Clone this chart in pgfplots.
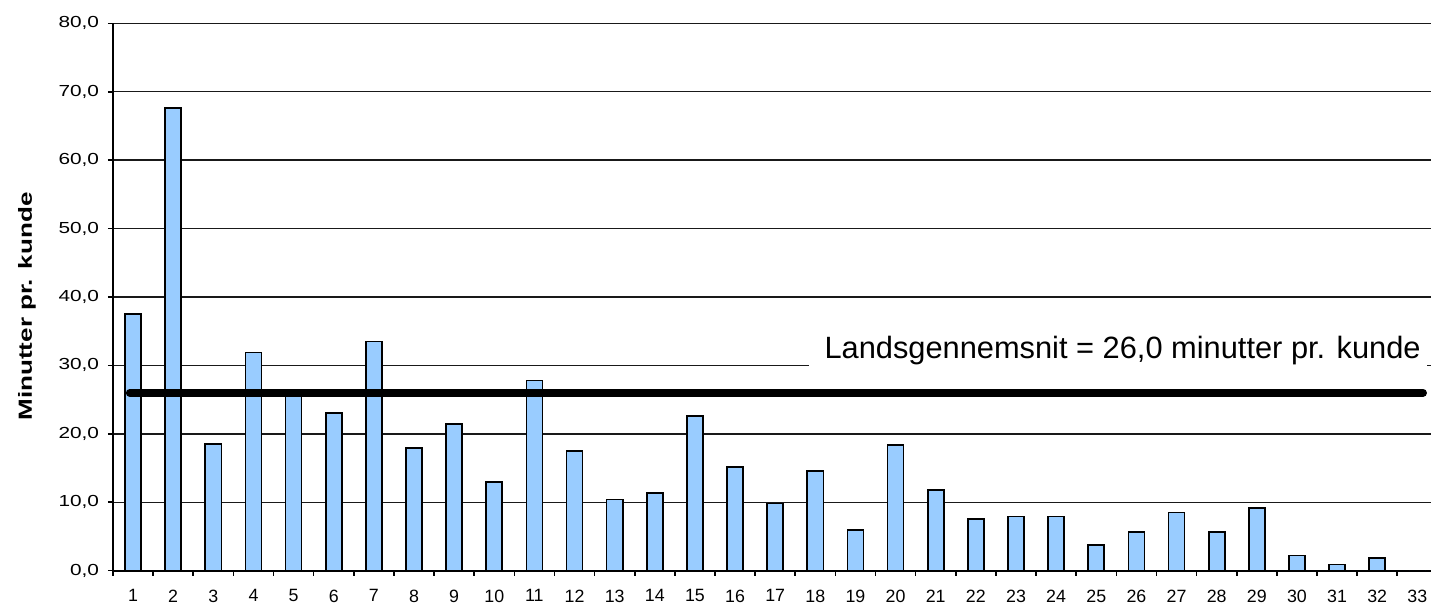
\documentclass[border=0pt]{standalone}
\usepackage{fontspec}
\setmainfont{Liberation Sans}
\usepackage{graphicx}
\usepackage{pgfplots}
\pgfplotsset{compat=1.18}
\definecolor{barblue}{HTML}{99CCFF}
\pgfplotstableread{
x y
1 37.5
2 67.6
3 18.5
4 31.9
5 25.8
6 23.0
7 33.5
8 17.9
9 21.4
10 13.0
11 27.8
12 17.5
13 10.4
14 11.4
15 22.6
16 15.2
17 9.8
18 14.6
19 5.9
20 18.4
21 11.8
22 7.6
23 7.9
24 7.9
25 3.8
26 5.7
27 8.5
28 5.7
29 9.2
30 2.2
31 0.9
32 1.9
33 0
}\datatable
\begin{document}
\begin{tikzpicture}
\begin{axis}[
  at={(0,0)}, anchor=south west,
  scale only axis, width=659pt, height=273.7pt,
  xmin=0.5, xmax=33.34, ymin=0, ymax=80,
  axis x line=bottom, axis y line=left,
  axis line style={line width=0.9pt, -},
  ytick={0,10,...,80},
  xtick={0.5,1.5,...,32.5},
  xticklabels={1,2,3,4,5,6,7,8,9,10,11,12,13,14,15,16,17,18,19,20,21,22,23,24,25,26,27,28,29,30,31,32,33},
  xticklabel style={xshift=10.03pt, anchor=north, inner ysep=0pt, yshift=-6.8pt, font=\fontsize{8.9}{10}\selectfont},
  yticklabel={\scalebox{1.3}[1]{\pgfmathprintnumber{\tick}}},
  yticklabel style={anchor=east, inner xsep=0pt, xshift=-4.3pt, font=\fontsize{8}{9}\selectfont},
  tick align=outside, major tick length=2.5pt,
  tick style={black, line width=0.8pt},
  ymajorgrids, grid style={black!90, line width=0.7pt},
  ylabel={\scalebox{1.37}[1]{\fontsize{9.5}{11}\selectfont\bfseries Minutter pr. kunde}},
  every axis y label/.style={at={(axis description cs:-0.06525,0.4826)}, rotate=90, anchor=center},
  clip=false,
  /pgf/number format/.cd, fixed, fixed zerofill, precision=1, use comma, assume math mode=true,
]
\addplot[ybar, bar width=0.40, fill=barblue, draw=black, line width=0.85pt] table[x=x, y=y] {\datatable};
\addplot[black, line width=4pt, line cap=round] coordinates {(0.92,26) (33.14,26)};
\node[anchor=base west, fill=white, inner xsep=0pt, inner ysep=3pt, font=\fontsize{15.4}{18}\selectfont] at (axis cs:17.82,31.04) {\hspace*{8pt}Landsgennemsnit = 26,0 minutter pr. kunde\hspace*{3pt}};
\end{axis}
\pgfresetboundingbox
\useasboundingbox (-56.5pt,-16.65pt) rectangle (659pt,285.35pt);
\end{tikzpicture}
\end{document}
